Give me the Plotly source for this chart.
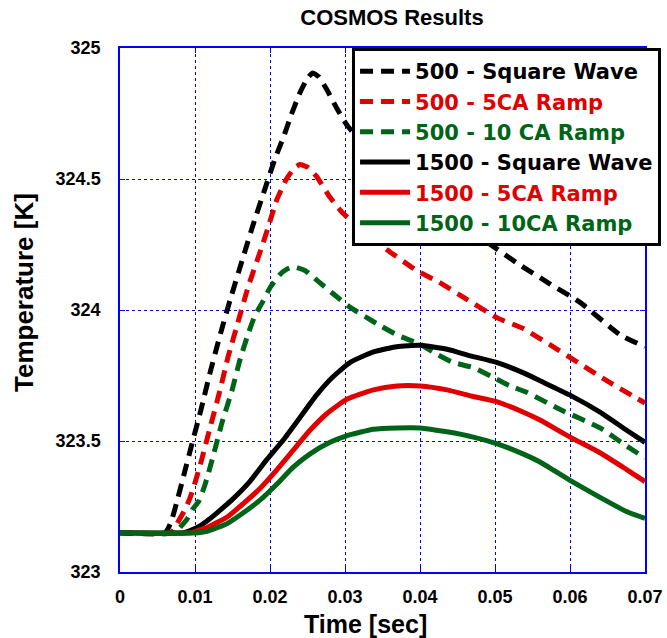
import plotly.graph_objects as go

# ---- data ----
t_sq500 = [0, 0.006, 0.0068, 0.0076, 0.0086, 0.0096, 0.0108, 0.012, 0.0134, 0.0147, 0.0164, 0.0178,
           0.0193, 0.0207, 0.0218, 0.0229, 0.024, 0.025, 0.0257, 0.0265, 0.0275, 0.0289, 0.0304,
           0.035, 0.040, 0.045, 0.0489, 0.0529, 0.0573, 0.0613, 0.0667, 0.070]
T_sq500 = [323.15, 323.15, 323.19, 323.27, 323.38, 323.49, 323.62, 323.76, 323.91, 324.04, 324.20, 324.33,
           324.46, 324.58, 324.66, 324.75, 324.83, 324.885, 324.905, 324.89, 324.845, 324.77, 324.70,
           324.56, 324.45, 324.34, 324.26, 324.18, 324.10, 324.03, 323.905, 323.86]

t_r5_500 = [0, 0.0068, 0.0075, 0.0085, 0.0093, 0.0101, 0.0109, 0.012, 0.0133, 0.0144, 0.0157, 0.0171,
            0.0189, 0.0198, 0.0209, 0.0222, 0.0232, 0.024, 0.025, 0.0262, 0.028, 0.0297, 0.0326,
            0.0356, 0.0396, 0.0423, 0.0463, 0.0503, 0.0537, 0.0583, 0.0649, 0.07]
T_r5_500 = [323.15, 323.15, 323.18, 323.23, 323.28, 323.35, 323.43, 323.55, 323.69, 323.82, 323.95, 324.09,
            324.24, 324.32, 324.42, 324.50, 324.54, 324.555, 324.545, 324.51, 324.43, 324.37, 324.30,
            324.23, 324.15, 324.11, 324.04, 323.97, 323.93, 323.85, 323.73, 323.645]

t_r10_500 = [0, 0.0075, 0.008, 0.0089, 0.0097, 0.0105, 0.0113, 0.0124, 0.0136, 0.0149, 0.016, 0.0171,
             0.018, 0.019, 0.02, 0.0213, 0.0222, 0.0231, 0.0247, 0.0264, 0.0285, 0.0307, 0.0347,
             0.0373, 0.04, 0.0423, 0.0444, 0.0471, 0.0496, 0.052, 0.0543, 0.0587, 0.064, 0.0676, 0.07]
T_r10_500 = [323.15, 323.15, 323.17, 323.20, 323.24, 323.27, 323.33, 323.44, 323.57, 323.69, 323.81, 323.91,
             323.98, 324.03, 324.085, 324.135, 324.155, 324.165, 324.15, 324.11, 324.06, 324.01, 323.94,
             323.90, 323.87, 323.83, 323.80, 323.78, 323.745, 323.71, 323.685, 323.62, 323.55, 323.48, 323.435]

t_sq1500 = [0, 0.0085, 0.0095, 0.0103, 0.0116, 0.0129, 0.0151, 0.0173, 0.0196, 0.0218, 0.024, 0.0262,
            0.0284, 0.0307, 0.0338, 0.0369, 0.04, 0.0436, 0.0467, 0.0502, 0.0538, 0.056, 0.06,
            0.064, 0.0676, 0.07]
T_sq1500 = [323.15, 323.15, 323.16, 323.17, 323.195, 323.225, 323.28, 323.345, 323.43, 323.505, 323.59, 323.675,
            323.745, 323.80, 323.84, 323.86, 323.865, 323.85, 323.825, 323.80, 323.76, 323.73, 323.675,
            323.61, 323.54, 323.495]

t_r5_1500 = [0, 0.0095, 0.0105, 0.0116, 0.0143, 0.0164, 0.0187, 0.0209, 0.0231, 0.0253, 0.0276, 0.0303,
             0.0338, 0.0369, 0.04, 0.0436, 0.0471, 0.0502, 0.0538, 0.056, 0.06, 0.064, 0.0676, 0.07]
T_r5_1500 = [323.15, 323.15, 323.16, 323.17, 323.21, 323.26, 323.32, 323.39, 323.465, 323.54, 323.605, 323.66,
             323.695, 323.71, 323.71, 323.695, 323.67, 323.65, 323.61, 323.58, 323.515, 323.455, 323.39, 323.345]

t_r10_1500 = [0, 0.0105, 0.0116, 0.0143, 0.0164, 0.0187, 0.0209, 0.0231, 0.0253, 0.028, 0.0302, 0.0338,
              0.0369, 0.04, 0.0436, 0.0471, 0.0502, 0.0538, 0.056, 0.06, 0.064, 0.0676, 0.07]
T_r10_1500 = [323.15, 323.15, 323.155, 323.185, 323.225, 323.275, 323.335, 323.40, 323.45, 323.495, 323.52, 323.545,
              323.55, 323.55, 323.535, 323.515, 323.49, 323.45, 323.42, 323.35, 323.285, 323.23, 323.205]

names = ["500 - Square Wave", "500 - 5CA Ramp", "500 - 10 CA Ramp",
         "1500 - Square Wave", "1500 - 5CA Ramp", "1500 - 10CA Ramp"]
xs = [t_sq500, t_r5_500, t_r10_500, t_sq1500, t_r5_1500, t_r10_1500]
ys = [T_sq500, T_r5_500, T_r10_500, T_sq1500, T_r5_1500, T_r10_1500]

BLACK, RED, GREEN = "#000000", "#e00000", "#006418"
colors = [BLACK, RED, GREEN, BLACK, RED, GREEN]
dashes = ["13px,8px"] * 3 + ["solid"] * 3

fig = go.Figure()
for x, y, n, c, d in zip(xs, ys, names, colors, dashes):
    fig.add_trace(go.Scatter(x=x, y=y, mode="lines",
                             name=f'<span style="color:{c}">{n}</span>',
                             line=dict(color=c, width=5, dash=d, shape="spline", smoothing=0.5)))

FONT = "Liberation Sans, Arial, sans-serif"
axis_common = dict(
    showline=True, linecolor="#0000ff", linewidth=1.5, mirror="ticks",
    ticks="inside", ticklen=5, tickcolor="#0000ff",
    showgrid=True, gridcolor="#0000ff", griddash="dot", gridwidth=1,
    zeroline=False,
    tickfont=dict(family=FONT, size=18, color="black", weight="bold"),
)

fig.update_layout(
    width=667, height=638,
    margin=dict(l=120, r=22, t=48, b=66, autoexpand=False),
    paper_bgcolor="white", plot_bgcolor="white",
    title=dict(text="COSMOS Results", x=0.518, xref="paper", xanchor="center",
               y=1 - 17 / 638, yref="container", yanchor="middle",
               font=dict(family=FONT, size=22, color="black", weight="bold")),
    xaxis=dict(range=[0, 0.07], dtick=0.01, tick0=0, ticklabelstandoff=8, **axis_common),
    yaxis=dict(range=[323, 325], dtick=0.5, tick0=323, ticklabelstandoff=14, **axis_common),
    legend=dict(x=0.442, y=1.0, xanchor="left", yanchor="top",
                bgcolor="white", bordercolor="black", borderwidth=3,
                itemwidth=50, tracegroupgap=0,
                font=dict(family="DejaVu Sans, sans-serif", size=21, color="black", weight="bold")),
    showlegend=True,
)

fig.add_annotation(text="Time [sec]", xref="paper", yref="paper",
                   x=(365 - 120) / 525, y=(572 - 624) / 524,
                   xanchor="center", yanchor="middle", showarrow=False,
                   font=dict(family=FONT, size=25, color="black", weight="bold"))
fig.add_annotation(text="Temperature [K]", xref="paper", yref="paper",
                   x=(24 - 120) / 525, y=(572 - 293) / 524, textangle=-90,
                   xanchor="center", yanchor="middle", showarrow=False,
                   font=dict(family=FONT, size=26, color="black", weight="bold"))

fig.write_html("out.html")
